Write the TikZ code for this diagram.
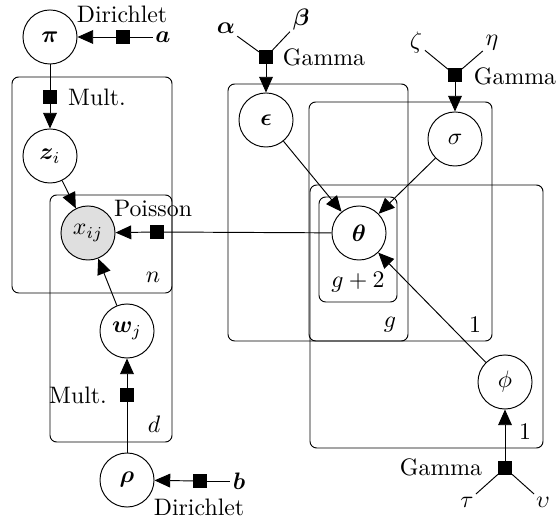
\documentclass[tikz,border=0pt]{standalone}
\usepackage{bm}
\usetikzlibrary{arrows.meta}
\begin{document}
\begin{tikzpicture}[x=0.42pt,y=-0.42pt,
  latent/.style={circle,draw,minimum size=22.7pt,inner sep=1pt},
  obs/.style={latent,fill=gray!25},
  factor/.style={rectangle,fill=black,minimum size=5.5pt,inner sep=0pt},
  plate/.style={draw,rounded corners=2.8pt},
  edge/.style={-{Triangle[length=6.6pt,width=5.8pt]}},
  txt/.style={inner sep=1pt}]
\useasboundingbox (0,0) rectangle (557,519);
% plates
\draw[plate] (12,77) rectangle (172,293);
\draw[plate] (50,195) rectangle (172,442);
\draw[plate] (228,84) rectangle (408,341);
\draw[plate] (309,102) rectangle (492,341);
\draw[plate] (310,185) rectangle (543,448);
\draw[plate] (319,197) rectangle (397,302);
% plate labels
\node[txt] (ln) at (153,277) {$n$};
\node[txt] (ld) at (154,424) {$d$};
\node[txt] (lg) at (390,325) {$g$};
\node[txt] (l1a) at (475,325) {$1$};
\node[txt] (l1b) at (525,432) {$1$};
\node[txt] (lg2) at (358,282) {$g+2$};
% nodes
\node[latent] (pi) at (50,37) {$\bm{\pi}$};
\node[latent] (z) at (50,156) {$\bm{z}_i$};
\node[obs] (x) at (88,233) {$x_{ij}$};
\node[latent] (w) at (127,331) {$\bm{w}_j$};
\node[latent] (rho) at (127,480) {$\bm{\rho}$};
\node[latent] (eps) at (266,120) {$\bm{\epsilon}$};
\node[latent] (sig) at (455,139) {$\sigma$};
\node[latent] (th) at (359,233) {$\bm{\theta}$};
\node[latent] (phi) at (505,382) {$\phi$};
% hyperparameters
\node[txt] (a) at (163,37) {$\bm{a}$};
\node[txt] (b) at (239,481) {$\bm{b}$};
\node[txt] (al) at (226,28) {$\bm{\alpha}$};
\node[txt] (be) at (301,20) {$\bm{\beta}$};
\node[txt] (ze) at (416,43) {$\zeta$};
\node[txt] (et) at (492,43) {$\eta$};
\node[txt] (ta) at (467,502) {$\tau$};
\node[txt] (up) at (543,502) {$\upsilon$};
% factors
\node[factor] (fa) at (123,37) {};
\node[factor] (fz) at (50,97) {};
\node[factor] (fx) at (157,232) {};
\node[factor] (fw) at (127,395) {};
\node[factor] (fb) at (200,481) {};
\node[factor] (fe) at (266,57) {};
\node[factor] (fs) at (455,75) {};
\node[factor] (fp) at (505,468) {};
% factor labels
\node[txt] (tfa) at (122,14) {Dirichlet};
\node[txt] (tfz) at (97,97) {Mult.};
\node[txt] (tfx) at (153,209) {Poisson};
\node[txt] (tfw) at (78,395) {Mult.};
\node[txt] (tfb) at (199,507) {Dirichlet};
\node[txt] (tfe) at (324,57) {Gamma};
\node[txt] (tfs) at (515,76) {Gamma};
\node[txt] (tfp) at (441,467) {Gamma};
% connectors
\draw (a) -- (fa); \draw[edge] (fa) -- (pi);
\draw (pi) -- (fz); \draw[edge] (fz) -- (z);
\draw[edge] (z) -- (x);
\draw[edge] (w) -- (x);
\draw (th) -- (fx); \draw[edge] (fx) -- (x);
\draw (rho) -- (fw); \draw[edge] (fw) -- (w);
\draw (b) -- (fb); \draw[edge] (fb) -- (rho);
\draw (al) -- (fe); \draw (be) -- (fe); \draw[edge] (fe) -- (eps);
\draw (ze) -- (fs); \draw (et) -- (fs); \draw[edge] (fs) -- (sig);
\draw (ta) -- (fp); \draw (up) -- (fp); \draw[edge] (fp) -- (phi);
\draw[edge] (eps) -- (th);
\draw[edge] (sig) -- (th);
\draw[edge] (phi) -- (th);
\end{tikzpicture}
\end{document}
